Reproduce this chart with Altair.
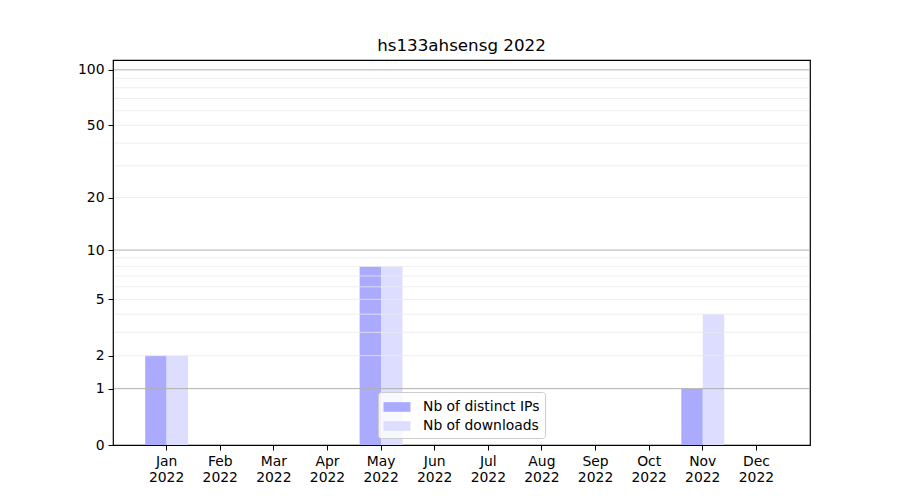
import altair as alt
import pandas as pd

months = ["Jan", "Feb", "Mar", "Apr", "May", "Jun", "Jul", "Aug", "Sep", "Oct", "Nov", "Dec"]
year = "2022"
ips = [2, 0, 0, 0, 8, 0, 0, 0, 0, 0, 1, 0]
downloads = [2, 0, 0, 0, 8, 0, 0, 0, 0, 0, 4, 0]
series = ["Nb of distinct IPs", "Nb of downloads"]
colors = ["#aaaaff", "#ddddff"]
y_ticks = [0, 1, 2, 5, 10, 20, 50, 100]
major_grid = [1, 10, 100]
minor_grid = [2, 3, 4, 5, 6, 7, 8, 9, 20, 30, 40, 50, 60, 70, 80, 90]
title = "hs133ahsensg 2022"

W, H = 697, 385

rows = []
for m, a, b in zip(months, ips, downloads):
    rows.append({"month": m, "series": series[0], "value": a})
    rows.append({"month": m, "series": series[1], "value": b})
bars_df = pd.DataFrame(rows)

grid_df = pd.DataFrame(
    [{"g": v, "kind": "major"} for v in major_grid] + [{"g": v, "kind": "minor"} for v in minor_grid]
)

yscale = alt.Scale(type="symlog", constant=1, domain=[0, 113], nice=False)
yaxis = alt.Axis(title=None, values=y_ticks, format="d", grid=False,
                 tickSize=5, labelPadding=4, domain=False)

bars = alt.Chart(bars_df).mark_bar(stroke=None).encode(
    x=alt.X("month:N", sort=months,
            scale=alt.Scale(paddingInner=0, paddingOuter=0.5),
            axis=alt.Axis(title=None, labelAngle=0,
                          labelExpr=f"[datum.label, '{year}']",
                          labelLineHeight=16, labelPadding=4,
                          ticks=True, tickSize=5, domain=False, grid=False)),
    xOffset=alt.XOffset("series:N", sort=series,
                        scale=alt.Scale(paddingInner=0, paddingOuter=0.25)),
    y=alt.Y("value:Q", scale=yscale, axis=yaxis),
    color=alt.Color("series:N", sort=series,
                    scale=alt.Scale(domain=series, range=colors),
                    legend=alt.Legend(title=None, orient="none", legendX=265, legendY=332,
                                      fillColor="rgba(255,255,255,0.8)",
                                      strokeColor="#cccccc", cornerRadius=3,
                                      padding=5,
                                      symbolType="M-1.4,-0.5L1.4,-0.5L1.4,0.5L-1.4,0.5Z",
                                      symbolSize=372, symbolStrokeWidth=0,
                                      symbolOpacity=1, symbolOffset=4,
                                      labelOffset=16, labelFontSize=13.9,
                                      labelFont="DejaVu Sans", labelColor="black",
                                      rowPadding=2)),
)

grid = alt.Chart(grid_df).mark_rule().encode(
    y=alt.Y("g:Q", scale=yscale, axis=yaxis),
    x=alt.value(1),
    x2=alt.value(W - 1),
    color=alt.Color("kind:N", scale=alt.Scale(domain=["major", "minor"], range=["#b0b0b0", "#ebebeb"]), legend=None),
    strokeWidth=alt.StrokeWidth("kind:N", scale=alt.Scale(domain=["major", "minor"], range=[1, 0.8]), legend=None),
)

chart = alt.layer(bars, grid).resolve_scale(color="independent").properties(
    width=W, height=H,
    title=alt.TitleParams(title, fontSize=16.7, font="DejaVu Sans", fontWeight="normal",
                          color="black", anchor="middle", offset=5),
    autosize=alt.AutoSizeParams(type="none"),
    padding={"left": 105, "top": 52, "right": 80, "bottom": 50},
    background="white",
).configure_view(stroke="black", strokeWidth=1.2).configure_axis(
    labelFont="DejaVu Sans", labelFontSize=13.9, labelColor="black",
    tickColor="black", tickWidth=1,
)

chart.save("out.html", embed_options={"renderer": "svg", "actions": False})
